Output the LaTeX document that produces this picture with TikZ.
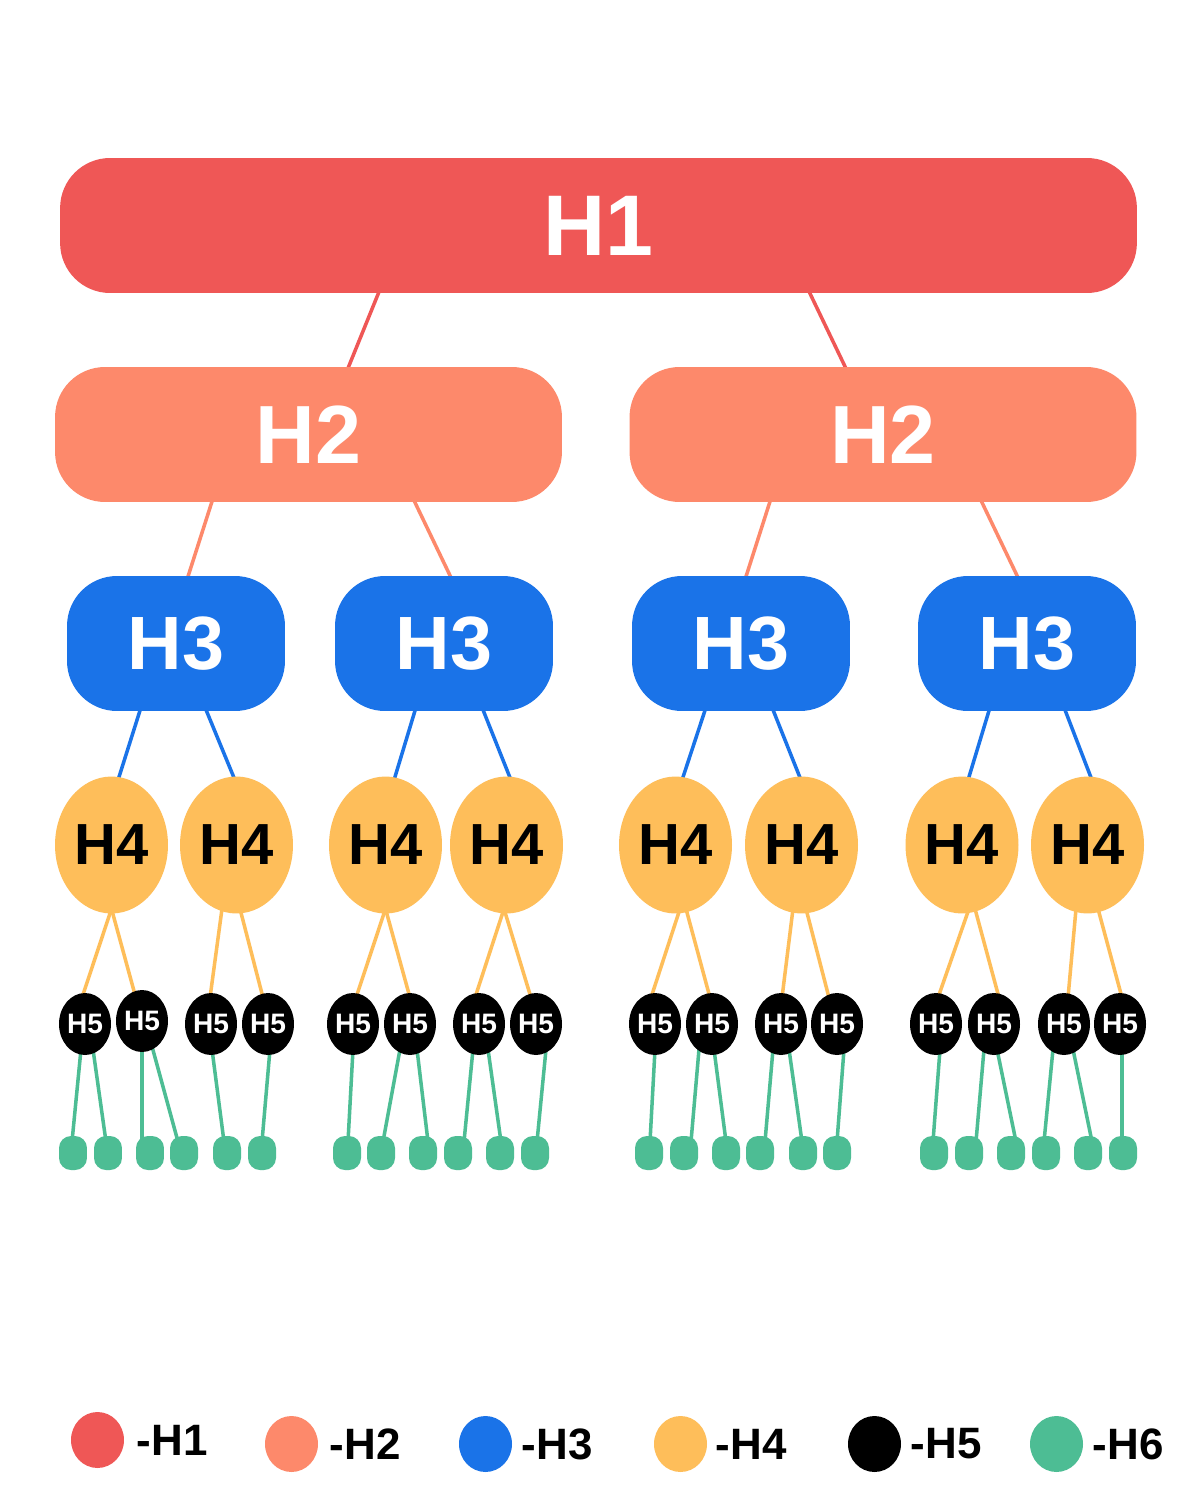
\documentclass[tikz,border=0pt]{standalone}
\usepackage{fontspec}
\setmainfont{Liberation Sans}
\usepackage{tikz}
\usetikzlibrary{positioning,shapes,backgrounds}
\definecolor{HOne}{RGB}{239,87,86}
\definecolor{HTwo}{RGB}{253,137,107}
\definecolor{HThree}{RGB}{26,115,232}
\definecolor{HFour}{RGB}{254,190,90}
\definecolor{HSix}{RGB}{77,189,148}

\begin{document}
\begin{tikzpicture}[
    x=0.02cm, y=-0.02cm,
    headone/.style={rectangle,rounded corners=1cm,fill=HOne,text=white,minimum width=21.54cm,minimum height=2.7cm,font=\bfseries\fontsize{49}{49}\selectfont},
    headtwo/.style={rectangle,rounded corners=1cm,fill=HTwo,text=white,minimum width=10.14cm,minimum height=2.7cm,font=\bfseries\fontsize{47}{47}\selectfont},
    headthree/.style={rectangle,rounded corners=1cm,fill=HThree,text=white,minimum width=4.36cm,minimum height=2.7cm,font=\bfseries\fontsize{43}{43}\selectfont},
    headfour/.style={ellipse,inner sep=0pt,fill=HFour,text=black,minimum width=2.26cm,minimum height=2.74cm,font=\bfseries\fontsize{33}{33}\selectfont},
    headfive/.style={ellipse,inner sep=0pt,fill=black,text=white,minimum width=1.04cm,minimum height=1.24cm,font=\bfseries\fontsize{16}{16}\selectfont},
    headsix/.style={rectangle,rounded corners=0.24cm,inner sep=0pt,fill=HSix,minimum width=0.56cm,minimum height=0.68cm},
    linkone/.style={line width=2pt,HOne},
    linktwo/.style={line width=2pt,HTwo},
    linkthree/.style={line width=2pt,HThree},
    linkfour/.style={line width=2pt,HFour},
    linkfive/.style={line width=2pt,HSix},
    keydot/.style={ellipse,inner sep=0pt,minimum width=1.06cm,minimum height=1.12cm},
    keytext/.style={inner sep=0pt,anchor=west,font=\bfseries\fontsize{25}{25}\selectfont}
]
\useasboundingbox (0,0) rectangle (1200,1500);

% H1 and H2
\node[headone] (hone) at (598.5,225.5) {H1};
\node[headtwo] (htwoa) at (308.5,434.5) {H2};
\node[headtwo] (htwob) at (883,434.5) {H2};

% H3
\node[headthree] (hthreea) at (176,643.5) {H3};
\node[headthree] (hthreeb) at (444,643.5) {H3};
\node[headthree] (hthreec) at (741,643.5) {H3};
\node[headthree] (hthreed) at (1027,643.5) {H3};

% H4
\node[headfour] (hfoura) at (111.5,845) {H4};
\node[headfour] (hfourb) at (236.5,845) {H4};
\node[headfour] (hfourc) at (385.5,845) {H4};
\node[headfour] (hfourd) at (506.5,845) {H4};
\node[headfour] (hfoure) at (675.5,845) {H4};
\node[headfour] (hfourf) at (801.5,845) {H4};
\node[headfour] (hfourg) at (962,845) {H4};
\node[headfour] (hfourh) at (1087.5,845) {H4};

% H5
\node[headfive] (hfivea) at (85,1024) {H5};
\node[headfive] (hfiveb) at (142,1021) {H5};
\node[headfive] (hfivec) at (211,1024) {H5};
\node[headfive] (hfived) at (268,1024) {H5};
\node[headfive] (hfivee) at (353,1024) {H5};
\node[headfive] (hfivef) at (410,1024) {H5};
\node[headfive] (hfiveg) at (479,1024) {H5};
\node[headfive] (hfiveh) at (536,1024) {H5};
\node[headfive] (hfivei) at (655,1024) {H5};
\node[headfive] (hfivej) at (712,1024) {H5};
\node[headfive] (hfivek) at (781,1024) {H5};
\node[headfive] (hfivel) at (837,1024) {H5};
\node[headfive] (hfivem) at (936,1024) {H5};
\node[headfive] (hfiven) at (994,1024) {H5};
\node[headfive] (hfiveo) at (1064,1024) {H5};
\node[headfive] (hfivep) at (1120,1024) {H5};

% H6
\node[headsix] (hsixa) at (73,1153) {};
\node[headsix] (hsixb) at (108,1153) {};
\node[headsix] (hsixc) at (150,1153) {};
\node[headsix] (hsixd) at (184,1153) {};
\node[headsix] (hsixe) at (227,1153) {};
\node[headsix] (hsixf) at (262,1153) {};
\node[headsix] (hsixg) at (347,1153) {};
\node[headsix] (hsixh) at (381,1153) {};
\node[headsix] (hsixi) at (423,1153) {};
\node[headsix] (hsixj) at (458,1153) {};
\node[headsix] (hsixk) at (500,1153) {};
\node[headsix] (hsixl) at (535,1153) {};
\node[headsix] (hsixm) at (649,1153) {};
\node[headsix] (hsixn) at (684,1153) {};
\node[headsix] (hsixo) at (726,1153) {};
\node[headsix] (hsixp) at (760,1153) {};
\node[headsix] (hsixq) at (803,1153) {};
\node[headsix] (hsixr) at (837,1153) {};
\node[headsix] (hsixs) at (934,1153) {};
\node[headsix] (hsixt) at (969,1153) {};
\node[headsix] (hsixu) at (1011,1153) {};
\node[headsix] (hsixv) at (1046,1153) {};
\node[headsix] (hsixw) at (1088,1153) {};
\node[headsix] (hsixx) at (1123,1153) {};

% Legend
\node[keydot,fill=HOne] (keyone) at (97.5,1440) {};
\node[keydot,fill=HTwo] (keytwo) at (291.5,1444) {};
\node[keydot,fill=HThree] (keythree) at (485.5,1444) {};
\node[keydot,fill=HFour] (keyfour) at (680.5,1444) {};
\node[keydot,fill=black] (keyfive) at (874.5,1444) {};
\node[keydot,fill=HSix] (keysix) at (1056.5,1444) {};
\node[keytext,right=0.24cm of keyone] (labone) {-H1};
\node[keytext,right=0.22cm of keytwo] (labtwo) {-H2};
\node[keytext,right=0.18cm of keythree] (labthree) {-H3};
\node[keytext,right=0.16cm of keyfour] (labfour) {-H4};
\node[keytext,right=0.18cm of keyfive] (labfive) {-H5};
\node[keytext,right=0.18cm of keysix] (labsix) {-H6};

% Connectors, behind the nodes
\begin{scope}[on background layer]
\fill[white] (0,0) rectangle (1200,1500);
\draw[linkone] ([shift={(-218.5,-4)}]hone.south) -- ([shift={(38.5,4)}]htwoa.north);
\draw[linkone] ([shift={(209.5,-4)}]hone.south) -- ([shift={(-36,4)}]htwob.north);

\draw[linktwo] ([shift={(-95.5,-4)}]htwoa.south) -- ([shift={(11,4)}]hthreea.north);
\draw[linktwo] ([shift={(104.5,-4)}]htwoa.south) -- ([shift={(8,4)}]hthreeb.north);
\draw[linktwo] ([shift={(-112,-4)}]htwob.south) -- ([shift={(4,4)}]hthreec.north);
\draw[linktwo] ([shift={(97,-4)}]htwob.south) -- ([shift={(-8,4)}]hthreed.north);

\draw[linkthree] ([shift={(-35,-4)}]hthreea.south) -- ([shift={(6.5,4)}]hfoura.north);
\draw[linkthree] ([shift={(29,-4)}]hthreea.south) -- ([shift={(-1.5,4)}]hfourb.north);
\draw[linkthree] ([shift={(-28,-4)}]hthreeb.south) -- ([shift={(8.5,4)}]hfourc.north);
\draw[linkthree] ([shift={(38,-4)}]hthreeb.south) -- ([shift={(4.5,4)}]hfourd.north);
\draw[linkthree] ([shift={(-35,-4)}]hthreec.south) -- ([shift={(6.5,4)}]hfoure.north);
\draw[linkthree] ([shift={(31,-4)}]hthreec.south) -- ([shift={(-0.5,4)}]hfourf.north);
\draw[linkthree] ([shift={(-37,-4)}]hthreed.south) -- ([shift={(6,4)}]hfourg.north);
\draw[linkthree] ([shift={(37,-4)}]hthreed.south) -- ([shift={(4.5,4)}]hfourh.north);

\draw[linkfour] ([shift={(0,-5)}]hfoura.south) -- ([shift={(-3,5)}]hfivea.north);
\draw[linkfour] ([shift={(0,-5)}]hfoura.south) -- ([shift={(-7,5)}]hfiveb.north);
\draw[linkfour] ([shift={(-14.5,-5)}]hfourb.south) -- ([shift={(-1,5)}]hfivec.north);
\draw[linkfour] ([shift={(3.5,-5)}]hfourb.south) -- ([shift={(-5,5)}]hfived.north);
\draw[linkfour] ([shift={(0,-5)}]hfourc.south) -- ([shift={(3,5)}]hfivee.north);
\draw[linkfour] ([shift={(0,-5)}]hfourc.south) -- ([shift={(0,5)}]hfivef.north);
\draw[linkfour] ([shift={(-2.5,-5)}]hfourd.south) -- ([shift={(-4,5)}]hfiveg.north);
\draw[linkfour] ([shift={(-2.5,-5)}]hfourd.south) -- ([shift={(-5,5)}]hfiveh.north);
\draw[linkfour] ([shift={(4.5,-5)}]hfoure.south) -- ([shift={(-4,5)}]hfivei.north);
\draw[linkfour] ([shift={(10.5,-5)}]hfoure.south) -- ([shift={(-2,5)}]hfivej.north);
\draw[linkfour] ([shift={(-8.5,-5)}]hfourf.south) -- ([shift={(1,5)}]hfivek.north);
\draw[linkfour] ([shift={(4.5,-5)}]hfourf.south) -- ([shift={(-8,5)}]hfivel.north);
\draw[linkfour] ([shift={(7,-5)}]hfourg.south) -- ([shift={(2,5)}]hfivem.north);
\draw[linkfour] ([shift={(13,-5)}]hfourg.south) -- ([shift={(5,5)}]hfiven.north);
\draw[linkfour] ([shift={(-11.5,-5)}]hfourh.south) -- ([shift={(4,5)}]hfiveo.north);
\draw[linkfour] ([shift={(10.5,-5)}]hfourh.south) -- ([shift={(2,5)}]hfivep.north);

\draw[linkfive] ([shift={(-4,-6)}]hfivea.south) -- ([shift={(-1,6)}]hsixa.north);
\draw[linkfive] ([shift={(8,-6)}]hfivea.south) -- ([shift={(-2,6)}]hsixb.north);
\draw[linkfive] ([shift={(0,-6)}]hfiveb.south) -- ([shift={(-8,6)}]hsixc.north);
\draw[linkfive] ([shift={(10,-6)}]hfiveb.south) -- ([shift={(-6,6)}]hsixd.north);
\draw[linkfive] ([shift={(1,-6)}]hfivec.south) -- ([shift={(-3,6)}]hsixe.north);
\draw[linkfive] ([shift={(2,-6)}]hfived.south) -- ([shift={(0,6)}]hsixf.north);
\draw[linkfive] ([shift={(0,-6)}]hfivee.south) -- ([shift={(1,6)}]hsixg.north);
\draw[linkfive] ([shift={(-10,-6)}]hfivef.south) -- ([shift={(2,6)}]hsixh.north);
\draw[linkfive] ([shift={(7,-6)}]hfivef.south) -- ([shift={(5,6)}]hsixi.north);
\draw[linkfive] ([shift={(-6,-6)}]hfiveg.south) -- ([shift={(6,6)}]hsixj.north);
\draw[linkfive] ([shift={(9,-6)}]hfiveg.south) -- ([shift={(1,6)}]hsixk.north);
\draw[linkfive] ([shift={(10,-6)}]hfiveh.south) -- ([shift={(2,6)}]hsixl.north);
\draw[linkfive] ([shift={(0,-6)}]hfivei.south) -- ([shift={(1,6)}]hsixm.north);
\draw[linkfive] ([shift={(-13,-6)}]hfivej.south) -- ([shift={(7,6)}]hsixn.north);
\draw[linkfive] ([shift={(2,-6)}]hfivej.south) -- ([shift={(0,6)}]hsixo.north);
\draw[linkfive] ([shift={(-8,-6)}]hfivek.south) -- ([shift={(5,6)}]hsixp.north);
\draw[linkfive] ([shift={(8,-6)}]hfivek.south) -- ([shift={(-1,6)}]hsixq.north);
\draw[linkfive] ([shift={(7,-6)}]hfivel.south) -- ([shift={(0,6)}]hsixr.north);
\draw[linkfive] ([shift={(4,-6)}]hfivem.south) -- ([shift={(-1,6)}]hsixs.north);
\draw[linkfive] ([shift={(-10,-6)}]hfiven.south) -- ([shift={(7,6)}]hsixt.north);
\draw[linkfive] ([shift={(3,-6)}]hfiven.south) -- ([shift={(5,6)}]hsixu.north);
\draw[linkfive] ([shift={(-11,-6)}]hfiveo.south) -- ([shift={(-2,6)}]hsixv.north);
\draw[linkfive] ([shift={(9,-6)}]hfiveo.south) -- ([shift={(4,6)}]hsixw.north);
\draw[linkfive] ([shift={(2,-6)}]hfivep.south) -- ([shift={(-1,6)}]hsixx.north);
\end{scope}
\end{tikzpicture}
\end{document}
